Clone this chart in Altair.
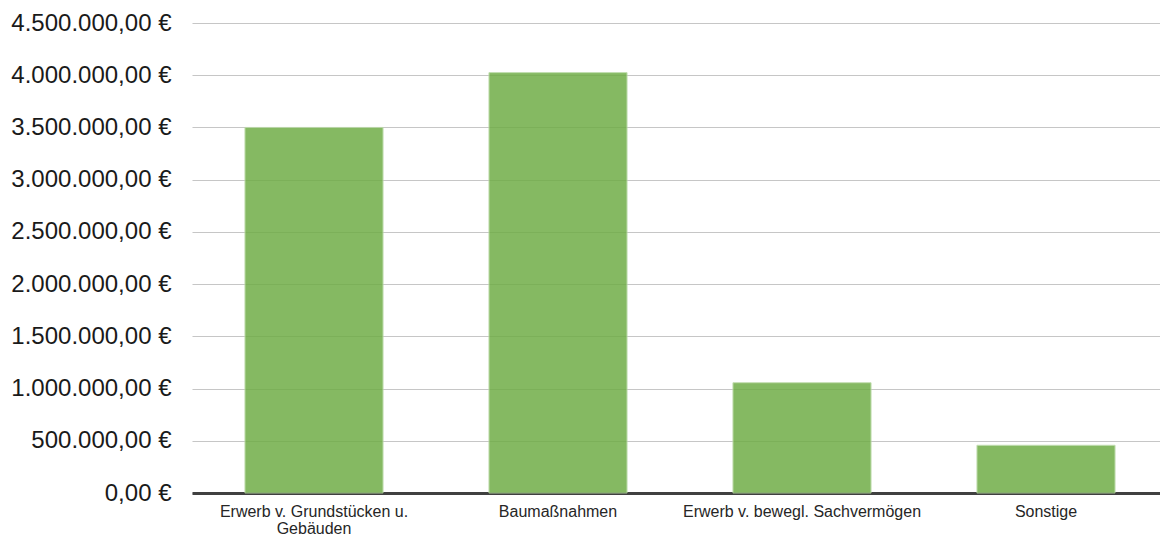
import altair as alt
import pandas as pd

# Investment categories and amounts (EUR)
categories = [
    "Erwerb v. Grundstücken u. Gebäuden",
    "Baumaßnahmen",
    "Erwerb v. bewegl. Sachvermögen",
    "Sonstige",
]
amounts = [3500000, 4025000, 1056000, 457000]
y_ticks = [0, 500000, 1000000, 1500000, 2000000, 2500000, 3000000, 3500000, 4000000, 4500000]

df = pd.DataFrame({"Kategorie": categories, "Betrag": amounts})

# German number format: 1.234.567,89 €
euro_expr = (
    "replace(replace(replace(format(datum.value, ',.2f'), regexp(',', 'g'), '_'), '.', ','), "
    "regexp('_', 'g'), '.') + ' €'"
)
wrap_expr = (
    "datum.label == 'Erwerb v. Grundstücken u. Gebäuden' ? "
    "['Erwerb v. Grundstücken u.', 'Gebäuden'] : datum.label"
)

chart = (
    alt.Chart(df)
    .mark_bar(color="#70AD47", opacity=0.85, stroke="#b9d9a4", strokeWidth=1, strokeOpacity=1)
    .encode(
        x=alt.X(
            "Kategorie:N",
            sort=categories,
            title=None,
            scale=alt.Scale(paddingInner=0.434, paddingOuter=0.217, range=[0, 976]),
            axis=alt.Axis(
                labelAngle=0,
                labelExpr=wrap_expr,
                labelFont="Liberation Sans",
                labelFontSize=16,
                labelColor="#262626",
                labelLimit=400,
                labelLineHeight=17.5,
                labelPadding=10,
                labelBaseline="top",
                ticks=False,
                grid=False,
                domainColor="#404040",
                domainWidth=3,
            ),
        ),
        y=alt.Y(
            "Betrag:Q",
            title=None,
            scale=alt.Scale(domain=[0, 4500000], nice=False),
            axis=alt.Axis(
                values=y_ticks,
                labelExpr=euro_expr,
                labelFont="Liberation Sans",
                labelFontSize=24,
                labelColor="#1a1a1a",
                labelPadding=21,
                labelLimit=400,
                ticks=False,
                domain=False,
                grid=True,
                gridColor="#c6c6c6",
                gridWidth=1.2,
            ),
        ),
    )
    .properties(
        width=968,
        height=470,
        background="white",
        padding={"left": 192, "top": 23, "right": 0, "bottom": 45},
        autosize=alt.AutoSizeParams(type="none"),
    )
    .configure_view(strokeWidth=0, stroke="transparent")
)

chart.save("out.html", embed_options={"renderer": "svg", "actions": False})
